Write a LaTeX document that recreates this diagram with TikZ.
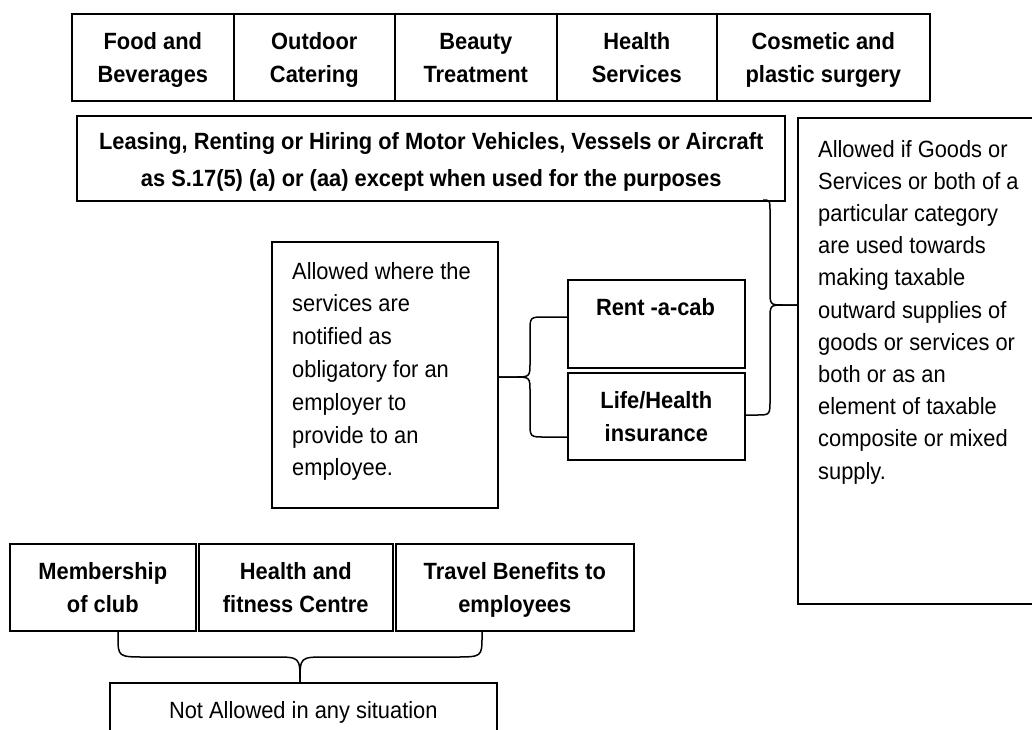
\documentclass[tikz,border=0pt]{standalone}
\usepackage{fontspec}
\setmainfont{Liberation Sans}[FakeStretch=0.93]
\newcommand\twol[2]{\rule{0pt}{22pt}#1\\#2\rule[-4.5pt]{0pt}{4.5pt}}
\begin{document}
\begin{tikzpicture}[x=1pt,y=-1pt,
  cell/.style={draw, line width=1.6pt, rectangle, inner sep=0pt, anchor=north west,
    align=center, font=\bfseries\fontsize{23.5}{32.5}\selectfont},
  plainbox/.style={draw, line width=1.6pt, rectangle, inner sep=0pt, anchor=north west},
  bold/.style={font=\bfseries\fontsize{23.5}{32.5}\selectfont},
  brace/.style={draw, line width=1.5pt, line join=round}]
\useasboundingbox (0,0) rectangle (1032,729);
\clip (0,0) rectangle (1032,729);
% top row
\node[cell, minimum width=162pt, minimum height=87pt] (food) at (71,13) {\twol{Food and}{Beverages}};
\node[cell, minimum width=161pt, minimum height=87pt] (outdoor) at (233,13) {\twol{Outdoor}{Catering}};
\node[cell, minimum width=162pt, minimum height=87pt] (beauty) at (394,13) {\twol{Beauty}{Treatment}};
\node[cell, minimum width=160pt, minimum height=87pt] (health) at (556,13) {\twol{Health}{Services}};
\node[cell, minimum width=213pt, minimum height=87pt] (cosm) at (716,13) {\twol{Cosmetic and}{plastic surgery}};
% leasing
\node[cell, line width=2.4pt, minimum width=708pt, minimum height=85pt,
  font=\bfseries\fontsize{23.5}{37}\selectfont] (lease) at (76,115)
  {\rule{0pt}{24pt}Leasing, Renting or Hiring of Motor Vehicles, Vessels or Aircraft\\as S.17(5) (a) or (aa) except when used for the purposes\rule[-2pt]{0pt}{2pt}};
% right box
\node[plainbox, minimum width=250pt, minimum height=486pt] (rbox) at (797,117) {};
\node[anchor=base west, inner sep=0pt] (rtxt) at (818,157)
  {\parbox[t]{210pt}{\fontsize{23.5}{32.2}\selectfont\raggedright
  Allowed if Goods or\\ Services or both of a\\ particular category\\ are used towards\\ making taxable\\ outward supplies of\\ goods or services or\\ both or as an\\ element of taxable\\ composite or mixed\\ supply.}};
% middle box
\node[plainbox, minimum width=226pt, minimum height=266pt] (mid) at (271,241) {};
\node[anchor=base west, inner sep=0pt] (mtxt) at (292,279)
  {\parbox[t]{200pt}{\fontsize{23.5}{32.8}\selectfont\raggedright
  Allowed where the\\ services are\\ notified as\\ obligatory for an\\ employer to\\ provide to an\\ employee.}};
% rent / life
\node[plainbox, minimum width=177pt, minimum height=88pt] (rent) at (567,279) {};
\node[bold, anchor=base, inner sep=0pt] (renttxt) at (655.5,315) {Rent -a-cab};
\node[cell, minimum width=177pt, minimum height=87pt] (life) at (567,372) {\twol{Life/Health}{insurance}};
% bottom row
\node[cell, minimum width=186pt, minimum height=87pt] (memb) at (9,543) {\twol{Membership}{of club}};
\node[cell, minimum width=194pt, minimum height=87pt] (fit) at (198,543) {\twol{Health and}{fitness Centre}};
\node[cell, minimum width=238pt, minimum height=87pt] (trav) at (395,543) {\twol{Travel Benefits to}{employees}};
\node[plainbox, minimum width=387pt, minimum height=60pt, font=\fontsize{23.5}{30}\selectfont] (notal) at (109,682) {Not Allowed in any situation};
% brace coordinates
\coordinate (lb1) at (567,317);
\coordinate (lb2) at (567,437);
\coordinate (lbt) at (497,377);
\coordinate (rb1) at (763,200);
\coordinate (rbt) at (797,305);
\coordinate (rb2) at (744,415);
\coordinate (bb1) at (118,630);
\coordinate (bb2) at (482,630);
\coordinate (bbt) at (300,682);
% left brace
\draw[brace] (lb1) -- (545,317) .. controls (530,317) .. (530,332) -- (530,362)
  .. controls (530,377) .. (514,377) -- (lbt);
\draw[brace] (lb2) -- (545,437) .. controls (530,437) .. (530,422) -- (530,392)
  .. controls (530,377) .. (514,377) -- (lbt);
% right brace
\draw[brace] (rb1) .. controls (770,200) .. (770,213) -- (770,290)
  .. controls (770,305) .. (784,305) -- (rbt);
\draw[brace] (rbt) -- (784,305) .. controls (770,305) .. (770,320) -- (770,400)
  .. controls (770,415) .. (756,415) -- (rb2);
% bottom brace
\draw[brace] (bb1) -- (118,636) .. controls (118,657) .. (146,657) -- (274,657)
  .. controls (300,657) .. (bbt);
\draw[brace] (bbt) .. controls (300,657) .. (326,657) -- (454,657)
  .. controls (482,657) .. (482,636) -- (bb2);
\end{tikzpicture}
\end{document}
